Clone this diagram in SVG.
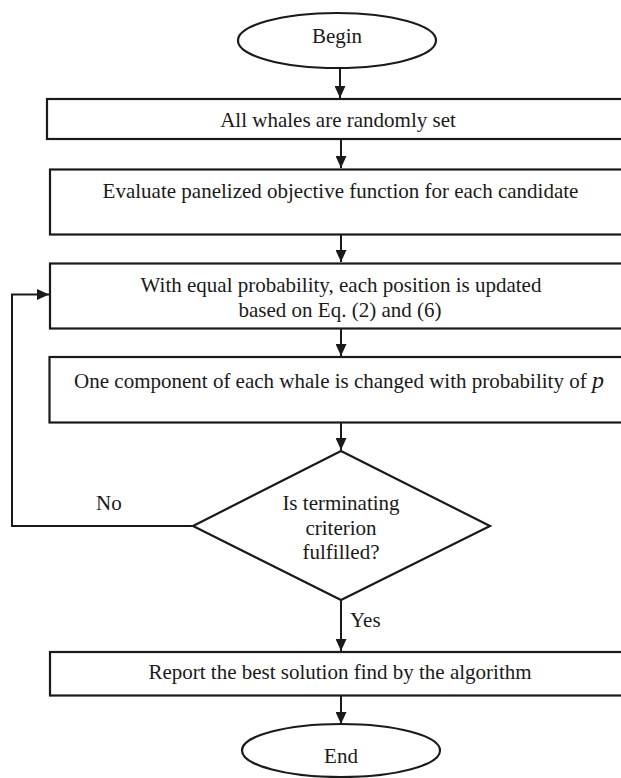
<svg xmlns="http://www.w3.org/2000/svg" width="621" height="778" viewBox="0 0 621 778">
<defs>
<marker id="ah" viewBox="0 0 12 11" refX="12" refY="5.5" markerWidth="12" markerHeight="11" markerUnits="userSpaceOnUse" orient="auto">
<path d="M0,0 L12,5.5 L0,11 z" fill="#1a1a1a"/>
</marker>
</defs>
<style>
.shape{fill:#fff;stroke:#1a1a1a;stroke-width:2.2}
.conn{fill:none;stroke:#1a1a1a;stroke-width:2}
text{font-family:"Liberation Serif","Times New Roman",serif;font-size:21px;fill:#1a1a1a;text-anchor:middle}
.lbl{text-anchor:start}
</style>
<rect width="621" height="778" fill="#fff"/>
<g id="connectors">
<line class="conn" x1="340" y1="68" x2="340" y2="98" marker-end="url(#ah)"/>
<line class="conn" x1="341" y1="139" x2="341" y2="168" marker-end="url(#ah)"/>
<line class="conn" x1="341" y1="234" x2="341" y2="262" marker-end="url(#ah)"/>
<line class="conn" x1="341" y1="328" x2="341" y2="356" marker-end="url(#ah)"/>
<line class="conn" x1="341" y1="423" x2="341" y2="450" marker-end="url(#ah)"/>
<line class="conn" x1="341" y1="600" x2="341" y2="651" marker-end="url(#ah)"/>
<line class="conn" x1="341" y1="696" x2="341" y2="724" marker-end="url(#ah)"/>
<polyline class="conn" points="193,526 12,526 12,294.5 49,294.5" marker-end="url(#ah)"/>
<text class="lbl" x="96" y="510">No</text>
<text class="lbl" x="350" y="627">Yes</text>
</g>
<g id="begin">
<ellipse class="shape" cx="337" cy="40.5" rx="99" ry="27.5"/>
<text x="337" y="43">Begin</text>
</g>
<g id="init">
<rect class="shape" x="47" y="99" width="600" height="40"/>
<text x="338" y="127">All whales are randomly set</text>
</g>
<g id="evaluate">
<rect class="shape" x="50" y="169.5" width="600" height="65"/>
<text x="340.5" y="198">Evaluate panelized objective function for each candidate</text>
</g>
<g id="update">
<rect class="shape" x="50" y="263.5" width="600" height="65"/>
<text x="341" y="291.5">With equal probability, each position is updated</text>
<text x="340" y="316.5">based on Eq. (2) and (6)</text>
</g>
<g id="mutate">
<rect class="shape" x="49.5" y="357" width="600" height="65.5"/>
<text x="339" y="388">One component of each whale is changed with probability of <tspan font-style="italic" font-size="24">p</tspan></text>
</g>
<g id="decision">
<polygon class="shape" points="341,451 490,526 341,600 193,526"/>
<text x="341" y="510">Is terminating</text>
<text x="341" y="534.5">criterion</text>
<text x="341" y="559">fulfilled?</text>
</g>
<g id="report">
<rect class="shape" x="50" y="652" width="600" height="43.5"/>
<text x="340" y="679">Report the best solution find by the algorithm</text>
</g>
<g id="end">
<ellipse class="shape" cx="341" cy="750.5" rx="99" ry="26.5"/>
<text x="341" y="763">End</text>
</g>
</svg>
